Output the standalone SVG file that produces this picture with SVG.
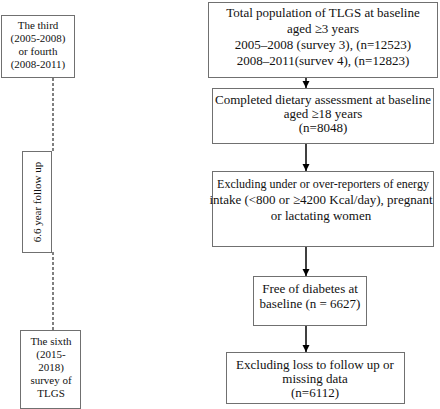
<svg xmlns="http://www.w3.org/2000/svg" width="440" height="409" viewBox="0 0 440 409">
<style>
.box{fill:#fff;stroke:#707070;stroke-width:1}
.t{font-family:"Liberation Serif","Times New Roman",serif;font-size:13px;fill:#111;text-anchor:middle}
.s{font-family:"Liberation Serif","Times New Roman",serif;font-size:11px;fill:#111;text-anchor:middle}
.arr{stroke:#000;stroke-width:1.5;fill:none;marker-end:url(#ah)}
.dash{stroke:#555;stroke-width:1.5;stroke-dasharray:3 2;fill:none}
</style>
<defs>
<marker id="ah" viewBox="0 0 10 10" refX="10" refY="5" markerWidth="5" markerHeight="5" orient="auto" markerUnits="strokeWidth">
<path d="M0,0 L10,5 L0,10 z" fill="#000"/>
</marker>
</defs>
<rect width="440" height="409" fill="#fff"/>
<g id="connectors">
<path class="arr" d="M306,78 V88"/>
<path class="arr" d="M306,143 V171"/>
<path class="arr" d="M306,246 V276"/>
<path class="arr" d="M306,325 V352"/>
<path class="dash" d="M53,78 V151"/>
<path class="dash" d="M53,252 V330"/>
</g>
<g id="n1">
<rect class="box" x="208.5" y="2.5" width="229" height="75"/>
<text class="t" x="323" y="17">Total population of TLGS at baseline</text>
<text class="t" x="323" y="33">aged ≥3 years</text>
<text class="t" x="323" y="49">2005–2008 (survey 3), (n=12523)</text>
<text class="t" x="323" y="65">2008–2011(survev 4), (n=12823)</text>
</g>
<g id="n2">
<rect class="box" x="212.5" y="88.5" width="221" height="55"/>
<text class="t" x="323" y="104">Completed dietary assessment at baseline</text>
<text class="t" x="323" y="118">aged ≥18 years</text>
<text class="t" x="323" y="132">(n=8048)</text>
</g>
<g id="n3">
<rect class="box" x="212.5" y="171.5" width="221" height="75"/>
<text class="t" x="323" y="188" style="font-size:12px">Excluding under or over-reporters of energy</text>
<text class="t" x="321" y="204">intake (&lt;800 or ≥4200 Kcal/day), pregnant</text>
<text class="t" x="321" y="220">or lactating women</text>
</g>
<g id="n4">
<rect class="box" x="253.5" y="276.5" width="113" height="49"/>
<text class="t" x="310" y="293">Free of diabetes at</text>
<text class="t" x="310" y="308">baseline (n = 6627)</text>
</g>
<g id="n5">
<rect class="box" x="226.5" y="352.5" width="178" height="51"/>
<text class="t" x="315" y="369">Excluding loss to follow up or</text>
<text class="t" x="315" y="383">missing data</text>
<text class="t" x="315" y="397">(n=6112)</text>
</g>
<g id="l1">
<rect class="box" x="1.5" y="15.5" width="73" height="62"/>
<text class="s" x="38" y="29">The third</text>
<text class="s" x="38" y="42">(2005-2008)</text>
<text class="s" x="38" y="55">or fourth</text>
<text class="s" x="38" y="68">(2008-2011)</text>
</g>
<g id="l2">
<rect class="box" x="22.5" y="151.5" width="29" height="101"/>
<text class="s" transform="translate(40.5,202) rotate(-90)" x="0" y="0">6.6 year follow up</text>
</g>
<g id="l3">
<rect class="box" x="20.5" y="330.5" width="60" height="78"/>
<text class="s" x="51" y="345">The sixth</text>
<text class="s" x="51" y="358">(2015-</text>
<text class="s" x="51" y="371">2018)</text>
<text class="s" x="51" y="384">survey of</text>
<text class="s" x="51" y="397">TLGS</text>
</g>
</svg>
